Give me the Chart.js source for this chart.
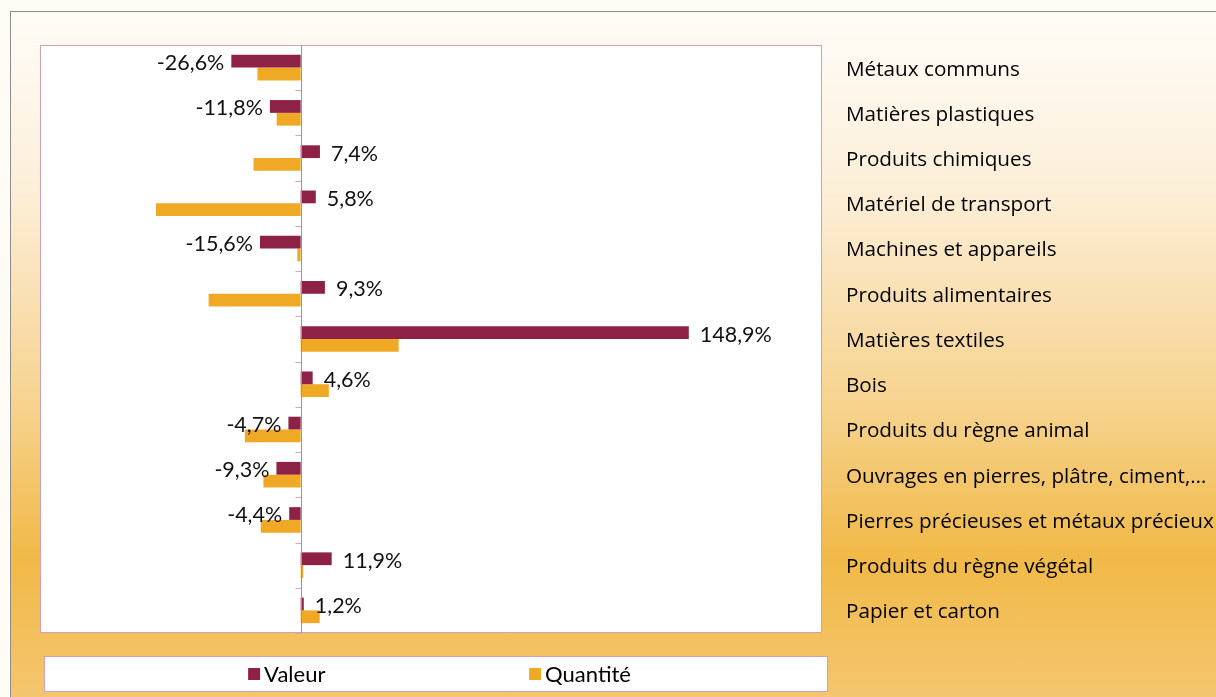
<!DOCTYPE html>
<html lang="fr">
<head>
<meta charset="utf-8">
<script src="https://cdn.jsdelivr.net/npm/chart.js@4.4.1/dist/chart.umd.min.js"></script>
<style>
  html, body { margin: 0; padding: 0; background: #fffcf6; overflow: hidden; }
  #frame {
    position: absolute; left: 10px; top: 11px; width: 1220px; height: 700px;
    border-left: 1px solid #8c8c8c; border-top: 1px solid #8c8c8c;
    background: linear-gradient(to bottom, #fefcf8 0%, #fcefd9 25%, #f9dfb0 42%, #f6d28c 57%, #f1b947 78%, #f4c773 100%);
  }
  #chart { position: absolute; left: 0; top: 0; }
</style>
</head>
<body>
<div id="frame"></div>
<canvas id="chart" width="1216" height="697"></canvas>
<script>
// categories, top to bottom
var categories = [
    'Métaux communs',
    'Matières plastiques',
    'Produits chimiques',
    'Matériel de transport',
    'Machines et appareils',
    'Produits alimentaires',
    'Matières textiles',
    'Bois',
    'Produits du règne animal',
    'Ouvrages en pierres, plâtre, ciment,…',
    'Pierres précieuses et métaux précieux',
    'Produits du règne végétal',
    'Papier et carton'
];
var valeur = [-26.6, -11.8, 7.4, 5.8, -15.6, 9.3, 148.9, 4.6, -4.7, -9.3, -4.4, 11.9, 1.2];
var quantite = [-16.6, -9.2, -18.1, -55.5, -1.3, -35.3, 37.6, 10.8, -21.4, -14.3, -15.3, 1.0, 7.3];
var seriesNames = ['Valeur', 'Quantité'];
var seriesColors = ['#8e2146', '#f0a924'];
var xMin = -100, xMax = 200;

function fmt(v) {
    return v.toFixed(1).replace('.', ',') + '%';
}

var framePlugin = {
    id: 'frame',
    beforeDraw: function (chart) {
        var a = chart.chartArea, ctx = chart.ctx;
        ctx.save();
        ctx.fillStyle = '#ffffff';
        ctx.fillRect(a.left, a.top, a.right - a.left, a.bottom - a.top);
        ctx.restore();
    },
    afterDatasetsDraw: function (chart) {
        var a = chart.chartArea, ctx = chart.ctx;
        var xs = chart.scales.x, ys = chart.scales.y;
        var x0 = Math.round(xs.getPixelForValue(0)) + 0.5;
        ctx.save();
        // plot border
        ctx.strokeStyle = '#d49fb0';
        ctx.lineWidth = 1;
        ctx.strokeRect(a.left + 0.5, a.top + 0.5, a.right - a.left - 1, a.bottom - a.top - 1);
        // zero axis with tick marks between categories
        ctx.strokeStyle = '#d8a8b8';
        for (var i = 0; i <= categories.length; i++) {
            var ty = Math.round(ys.getPixelForValue(i - 0.5)) + 0.5;
            ctx.beginPath();
            ctx.moveTo(x0 - 6, ty);
            ctx.lineTo(x0, ty);
            ctx.stroke();
        }
        ctx.strokeStyle = '#c97d96';
        ctx.beginPath();
        ctx.moveTo(x0, a.top);
        ctx.lineTo(x0, a.bottom);
        ctx.stroke();
        // value labels for the first series
        var meta = chart.getDatasetMeta(0);
        ctx.font = '21.5px Lato';
        ctx.fillStyle = '#111111';
        ctx.textBaseline = 'middle';
        meta.data.forEach(function (bar, idx) {
            var v = valeur[idx];
            if (v < 0) {
                ctx.textAlign = 'right';
                ctx.fillText(fmt(v), bar.x - 7, bar.y + 2);
            } else {
                ctx.textAlign = 'left';
                ctx.fillText(fmt(v), bar.x + 11, bar.y + 2);
            }
        });
        ctx.restore();
    },
    afterDraw: function (chart) {
        var a = chart.chartArea, ctx = chart.ctx;
        var bx = a.left + 4, by = a.bottom + 23, bw = a.right - a.left + 2, bh = 36;
        ctx.save();
        ctx.fillStyle = '#ffffff';
        ctx.fillRect(bx, by, bw, bh);
        ctx.strokeStyle = '#d49fb0';
        ctx.strokeRect(bx + 0.5, by + 0.5, bw - 1, bh - 1);
        ctx.font = '22px Lato';
        ctx.textBaseline = 'middle';
        ctx.textAlign = 'left';
        var slot = 281;
        var lastW = ctx.measureText(chart.data.datasets[1].label).width;
        var total = slot + 17 + lastW;
        var sx = bx + bw / 2 - total / 2 + 4;
        var cy = by + bh / 2;
        chart.data.datasets.forEach(function (ds, k) {
            var mx = sx + k * slot;
            ctx.fillStyle = ds.backgroundColor;
            ctx.fillRect(mx, cy - 6, 12, 12);
            ctx.fillStyle = '#000000';
            ctx.fillText(ds.label, mx + 16, cy + 1);
        });
        ctx.restore();
    }
};

var ctx = document.getElementById('chart').getContext('2d');
var chart = new Chart(ctx, {
    type: 'bar',
    data: {
        labels: categories,
        datasets: [{
            label: seriesNames[0],
            data: valeur,
            backgroundColor: seriesColors[0]
        }, {
            label: seriesNames[1],
            data: quantite,
            backgroundColor: seriesColors[1]
        }]
    },
    options: {
        indexAxis: 'y',
        responsive: false,
        animation: false,
        devicePixelRatio: 1,
        categoryPercentage: 0.565,
        barPercentage: 1.0,
        layout: {
            padding: { left: 40, top: 45, right: 0, bottom: 64 }
        },
        scales: {
            x: {
                display: false,
                min: xMin,
                max: xMax
            },
            y: {
                position: 'right',
                grid: { display: false, drawTicks: false },
                border: { display: false },
                afterFit: function (axis) { axis.width = 394; },
                ticks: {
                    autoSkip: false,
                    padding: 24,
                    labelOffset: 2,
                    color: '#000000',
                    font: { family: 'Open Sans', size: 20.7 }
                }
            }
        },
        plugins: {
            legend: { display: false },
            tooltip: { enabled: false }
        }
    },
    plugins: [framePlugin]
});
</script>
</body>
</html>
